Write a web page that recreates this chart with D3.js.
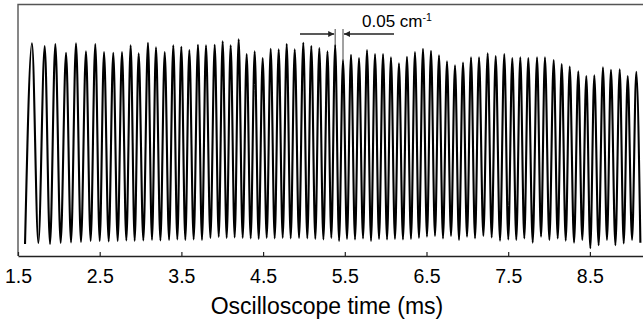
<!DOCTYPE html>
<html>
<head>
<meta charset="utf-8">
<script src="https://cdn.jsdelivr.net/npm/d3@7"></script>
<style>
  body { margin: 0; background: #fff; }
  svg { display: block; font-family: "Liberation Sans", Arial, Helvetica, sans-serif; }
</style>
</head>
<body>
<svg id="chart" width="643" height="321"></svg>
<script>
// fringe maxima (time in ms, relative signal 0..1)
const peakTimes = [
  1.671, 1.827, 1.957, 2.088, 2.210, 2.332, 2.446, 2.553, 2.666, 2.773,
  2.879, 2.977, 3.091, 3.189, 3.296, 3.401, 3.499, 3.597, 3.703, 3.801,
  3.908, 4.005, 4.103, 4.201, 4.299, 4.397, 4.495, 4.593, 4.691, 4.789,
  4.887, 4.992, 5.090, 5.188, 5.288, 5.382, 5.478, 5.576, 5.674, 5.772,
  5.870, 5.968, 6.065, 6.163, 6.261, 6.359, 6.457, 6.555, 6.653, 6.751,
  6.849, 6.947, 7.045, 7.143, 7.249, 7.347, 7.452, 7.550, 7.648, 7.746,
  7.853, 7.950, 8.057, 8.155, 8.253, 8.358, 8.456, 8.554, 8.660, 8.758,
  8.865, 8.963, 9.068
];
const peakLevels = [
  0.846, 0.835, 0.843, 0.808, 0.846, 0.814, 0.843, 0.811, 0.808, 0.811,
  0.838, 0.806, 0.848, 0.830, 0.811, 0.838, 0.832, 0.819, 0.840, 0.838,
  0.840, 0.854, 0.838, 0.862, 0.803, 0.814, 0.787, 0.824, 0.822, 0.843,
  0.822, 0.848, 0.835, 0.827, 0.814, 0.839, 0.779, 0.800, 0.787, 0.819,
  0.803, 0.803, 0.790, 0.766, 0.792, 0.811, 0.824, 0.816, 0.798, 0.774,
  0.758, 0.769, 0.790, 0.790, 0.806, 0.795, 0.803, 0.787, 0.790, 0.787,
  0.790, 0.790, 0.779, 0.763, 0.753, 0.734, 0.716, 0.718, 0.750, 0.740,
  0.742, 0.716, 0.732
];
// fringe minima, one before the first peak, one between each pair, one after the last
const troughTimes = [
  1.586,
  1.749, 1.892, 2.022, 2.149, 2.271, 2.389, 2.500, 2.610, 2.720, 2.826,
  2.928, 3.034, 3.140, 3.243, 3.349, 3.450, 3.548, 3.650, 3.752, 3.855,
  3.957, 4.054, 4.152, 4.250, 4.348, 4.446, 4.544, 4.642, 4.740, 4.838,
  4.940, 5.041, 5.139, 5.238, 5.335, 5.430, 5.527, 5.625, 5.723, 5.821,
  5.919, 6.017, 6.114, 6.212, 6.310, 6.408, 6.506, 6.604, 6.702, 6.800,
  6.898, 6.996, 7.094, 7.196, 7.298, 7.400, 7.501, 7.599, 7.697, 7.800,
  7.902, 8.004, 8.106, 8.204, 8.306, 8.407, 8.505, 8.607, 8.709, 8.812,
  8.914, 9.016,
  9.118
];
const troughLevels = [
  0.048,
  0.052, 0.048, 0.052, 0.054, 0.056, 0.060, 0.060, 0.058, 0.060, 0.062,
  0.060, 0.062, 0.064, 0.062, 0.064, 0.066, 0.064, 0.066, 0.064,
  0.072, 0.076, 0.072, 0.074, 0.072, 0.070, 0.068, 0.072, 0.070, 0.072,
  0.070, 0.072, 0.070, 0.068, 0.066, 0.072, 0.060, 0.068, 0.066, 0.070,
  0.060, 0.068, 0.066, 0.068, 0.066, 0.068, 0.072,
  0.077, 0.080, 0.070, 0.080, 0.064, 0.077, 0.070, 0.080, 0.074, 0.061,
  0.066, 0.064, 0.070, 0.053, 0.077, 0.064, 0.070, 0.061, 0.053, 0.064,
  0.031, 0.043, 0.064, 0.043, 0.050, 0.064, 0.053
];
const tickValues = [1.5, 2.5, 3.5, 4.5, 5.5, 6.5, 7.5, 8.5];
const axisTitle = "Oscilloscope time (ms)";
const spacingLabel = "0.05 cm";
const spacingUnitSup = "-1";
const markedPeaks = [35, 36];

const width = 643, height = 321;
const margin = { top: 4.5, right: 0, bottom: 65, left: 18 };
const ink = "#222";

const svg = d3.select("#chart");

const x = d3.scaleLinear()
  .domain([1.5, 9.15])
  .range([margin.left, width - margin.right]);
const y = d3.scaleLinear()
  .domain([0, 1])
  .range([height - margin.bottom, margin.top]);

// interleave minima and maxima into one trace
const signal = [];
troughTimes.forEach((t, i) => {
  signal.push({ t, v: troughLevels[i] });
  if (i < peakTimes.length) signal.push({ t: peakTimes[i], v: peakLevels[i] });
});

// frame: top and left edges
svg.append("path")
  .attr("d", `M${x(9.15)},${y(1)}H${x(1.5)}V${y(0)}`)
  .attr("fill", "none")
  .attr("stroke", "#555")
  .attr("stroke-width", 1.4);

const xAxis = svg.append("g")
  .attr("transform", `translate(0,${y(0)})`)
  .call(d3.axisBottom(x)
    .tickValues(tickValues)
    .tickFormat(d3.format(".1f"))
    .tickSizeInner(-4)
    .tickSizeOuter(0)
    .tickPadding(13));
xAxis.select(".domain").attr("stroke", ink).attr("stroke-width", 1.4);
xAxis.selectAll(".tick line").attr("stroke", ink).attr("stroke-width", 1.2);
xAxis.selectAll(".tick text")
  .attr("fill", "#000")
  .style("font-size", "19.5px")
  .style("font-family", "'Liberation Sans', Arial, sans-serif");

svg.append("text")
  .attr("x", 327)
  .attr("y", 314)
  .attr("text-anchor", "middle")
  .attr("fill", "#000")
  .style("font-size", "23px")
  .text(axisTitle);

const line = d3.line()
  .x(d => x(d.t))
  .y(d => y(d.v))
  .curve(d3.curveMonotoneX);

svg.append("path")
  .datum(signal)
  .attr("d", line)
  .attr("fill", "none")
  .attr("stroke", "#000")
  .attr("stroke-width", 2.1)
  .attr("stroke-linejoin", "round");

// free spectral range annotation
const defs = svg.append("defs");
defs.append("marker")
  .attr("id", "head")
  .attr("viewBox", "0 0 10 10")
  .attr("refX", 10)
  .attr("refY", 5)
  .attr("markerWidth", 9)
  .attr("markerHeight", 6)
  .attr("markerUnits", "userSpaceOnUse")
  .attr("orient", "auto")
  .append("path")
  .attr("d", "M0,0L10,5L0,10Z")
  .attr("fill", ink);

const arrowY = 34;
const xa = x(peakTimes[markedPeaks[0]]);
const xb = x(peakTimes[markedPeaks[1]]);

svg.selectAll(".fsr-line")
  .data(markedPeaks)
  .join("line")
  .attr("class", "fsr-line")
  .attr("x1", i => x(peakTimes[i]))
  .attr("x2", i => x(peakTimes[i]))
  .attr("y1", 29)
  .attr("y2", i => y(peakLevels[i]))
  .attr("stroke", "#444")
  .attr("stroke-width", 1);

svg.append("line")
  .attr("x1", 300).attr("x2", xa - 1)
  .attr("y1", arrowY).attr("y2", arrowY)
  .attr("stroke", ink).attr("stroke-width", 1.3)
  .attr("marker-end", "url(#head)");
svg.append("line")
  .attr("x1", 394).attr("x2", xb + 1)
  .attr("y1", arrowY).attr("y2", arrowY)
  .attr("stroke", ink).attr("stroke-width", 1.3)
  .attr("marker-end", "url(#head)");

const label = svg.append("text")
  .attr("x", 362)
  .attr("y", 27)
  .attr("fill", "#000")
  .style("font-size", "17px")
  .text(spacingLabel);
label.append("tspan")
  .attr("dy", -6)
  .style("font-size", "10.5px")
  .text(spacingUnitSup);
</script>
</body>
</html>
